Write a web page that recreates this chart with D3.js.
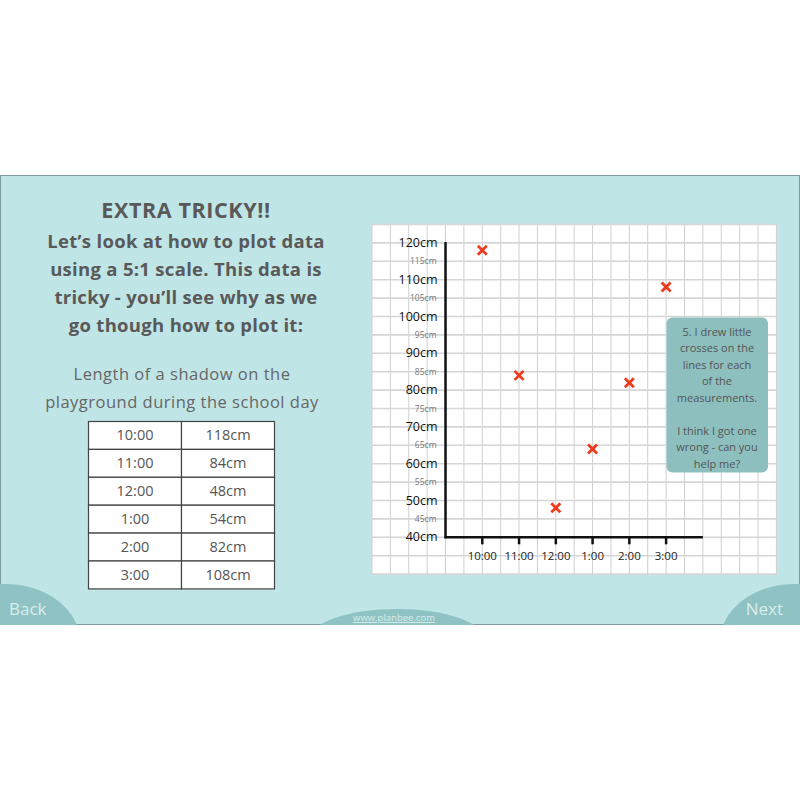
<!DOCTYPE html>
<html><head><meta charset="utf-8">
<script src="https://cdn.jsdelivr.net/npm/d3@7"></script>
<style>
html,body{margin:0;padding:0;background:#fff;}
svg{display:block;}
text{font-family:"Open Sans","Noto Sans",sans-serif;}
</style></head>
<body>
<div id="chart"></div>
<script>
// ---- data ----
const times = ["10:00","11:00","12:00","1:00","2:00","3:00"];
const tableValues = [118, 84, 48, 54, 82, 108];      // values written in the table
const plottedValues = [118, 84, 48, 64, 82, 108];    // crosses as drawn (one is wrong)
const majorTicks = [120, 110, 100, 90, 80, 70, 60, 50, 40];
const minorTicks = [115, 105, 95, 85, 75, 65, 55, 45];
const titleLines = ["EXTRA TRICKY!!"];
const introLines = ["Let\u2019s look at how to plot data", "using a 5:1 scale. This data is", "tricky - you\u2019ll see why as we", "go though how to plot it:"];
const captionLines = ["Length of a shadow on the", "playground during the school day"];
const noteLines = ["5. I drew little", "crosses on the", "lines for each", "of the", "measurements.", "", "I think I got one", "wrong - can you", "help me?"];

const W = 800, H = 800;
const svg = d3.select("#chart").append("svg").attr("width", W).attr("height", H);

// slide background
svg.append("rect").attr("x", 0.5).attr("y", 175.5).attr("width", 799).attr("height", 449)
  .attr("fill", "#c0e5e6").attr("stroke", "#7f9c9d").attr("stroke-width", 1);

// bottom decorations
const deco = svg.append("g");
const clip = svg.append("clipPath").attr("id", "slideclip");
clip.append("rect").attr("x", 0).attr("y", 175).attr("width", 800).attr("height", 450);
deco.attr("clip-path", "url(#slideclip)");
deco.append("ellipse").attr("cx", 6).attr("cy", 642).attr("rx", 74).attr("ry", 58).attr("fill", "#8fc3c3");
deco.append("ellipse").attr("cx", 794).attr("cy", 642).attr("rx", 74).attr("ry", 58).attr("fill", "#8fc3c3");
deco.append("ellipse").attr("cx", 397).attr("cy", 640).attr("rx", 88).attr("ry", 31).attr("fill", "#8fc3c3");
svg.append("text").attr("x", 9).attr("y", 615).attr("font-size", 17).attr("fill", "#d9eded").text("Back");
svg.append("text").attr("x", 783).attr("y", 615).attr("text-anchor", "end").attr("font-size", 17).attr("fill", "#d9eded").text("Next");
svg.append("text").attr("x", 394).attr("y", 621).attr("text-anchor", "middle").attr("font-size", 9.5)
  .attr("fill", "#d9eded").attr("text-decoration", "underline").text("www.planbee.com");

// left text
svg.append("text").attr("x", 186).attr("y", 218).attr("text-anchor", "middle").attr("font-size", 21.5)
  .attr("font-weight", 700).attr("fill", "#595959").attr("letter-spacing", 0.6).text(titleLines[0]);
svg.append("g").selectAll("text").data(introLines).join("text")
  .attr("x", 186).attr("y", (d, i) => 247.5 + i * 28.3).attr("text-anchor", "middle")
  .attr("font-size", 18.5).attr("font-weight", 700).attr("fill", "#595959").attr("letter-spacing", 0.3).text(d => d);
svg.append("g").selectAll("text").data(captionLines).join("text")
  .attr("x", 182).attr("y", (d, i) => 380 + i * 27.5).attr("text-anchor", "middle")
  .attr("font-size", 16.5).attr("fill", "#666").attr("letter-spacing", 0.5).text(d => d);

// table
const tX0 = 88.5, tX1 = 181.5, tX2 = 274.5, tY0 = 421.5, rowH = 27.9;
const tbl = svg.append("g");
const rows = times.map((t, i) => ({t, v: tableValues[i], i}));
tbl.selectAll("g.row").data(rows).join("g").attr("class", "row").each(function(d) {
  const g = d3.select(this);
  const y = tY0 + d.i * rowH;
  g.append("rect").attr("x", tX0).attr("y", y).attr("width", tX1 - tX0).attr("height", rowH)
    .attr("fill", "#fff").attr("stroke", "#444").attr("stroke-width", 1.2);
  g.append("rect").attr("x", tX1).attr("y", y).attr("width", tX2 - tX1).attr("height", rowH)
    .attr("fill", "#fff").attr("stroke", "#444").attr("stroke-width", 1.2);
  g.append("text").attr("x", (tX0 + tX1) / 2).attr("y", y + rowH / 2 + 5).attr("text-anchor", "middle")
    .attr("font-size", 14.5).attr("fill", "#555").text(d.t);
  g.append("text").attr("x", (tX1 + tX2) / 2).attr("y", y + rowH / 2 + 5).attr("text-anchor", "middle")
    .attr("font-size", 14.5).attr("fill", "#555").text(d.v + "cm");
});

// chart panel (grid paper): half-hour columns, 5cm rows
const x = d3.scaleLinear().domain([-3, 8]).range([372, 776.4]);
const y = d3.scaleLinear().domain([30, 125]).range([574.1, 224.5]);
svg.append("rect").attr("x", x(-3)).attr("y", y(125)).attr("width", x(8) - x(-3)).attr("height", y(30) - y(125))
  .attr("fill", "#fff");
const grid = svg.append("g");
grid.selectAll("line.v").data(d3.range(-3, 8.01, 0.5)).join("line").attr("class", "v")
  .attr("x1", d => x(d)).attr("x2", d => x(d)).attr("y1", y(125)).attr("y2", y(30))
  .attr("stroke", "#cfcfcf").attr("stroke-width", 1);
grid.selectAll("line.h").data(d3.range(30, 125.01, 5)).join("line").attr("class", "h")
  .attr("y1", d => y(d)).attr("y2", d => y(d)).attr("x1", x(-3)).attr("x2", x(8))
  .attr("stroke", "#d6d6d6").attr("stroke-width", 1.6);

// axes
svg.append("line").attr("x1", x(-1)).attr("x2", x(-1)).attr("y1", y(120) - 1).attr("y2", y(40) + 1)
  .attr("stroke", "#111").attr("stroke-width", 2.5);
svg.append("line").attr("x1", x(-1) - 1).attr("x2", x(6)).attr("y1", y(40)).attr("y2", y(40))
  .attr("stroke", "#111").attr("stroke-width", 2.5);
svg.append("g").selectAll("line").data(times).join("line")
  .attr("x1", (d, i) => x(i)).attr("x2", (d, i) => x(i)).attr("y1", y(40)).attr("y2", y(40) + 7)
  .attr("stroke", "#111").attr("stroke-width", 2.5);
svg.append("g").selectAll("text").data(times).join("text")
  .attr("x", (d, i) => x(i)).attr("y", y(40) + 23).attr("text-anchor", "middle")
  .attr("font-size", 11.5).attr("fill", "#222").text(d => d);
svg.append("g").selectAll("text").data(majorTicks).join("text")
  .attr("x", x(-1) - 8).attr("y", d => y(d) + 4).attr("text-anchor", "end")
  .attr("font-size", 12.5).attr("fill", "#111").text(d => d + "cm");
svg.append("g").selectAll("text").data(minorTicks).join("text")
  .attr("x", x(-1) - 9).attr("y", d => y(d) + 3).attr("text-anchor", "end")
  .attr("font-size", 8.5).attr("fill", "#777").text(d => d + "cm");

// crosses
const cs = 4.5;
const crosses = svg.append("g").selectAll("g").data(plottedValues).join("g")
  .attr("transform", (d, i) => `translate(${x(i)},${y(d)})`);
crosses.append("line").attr("x1", -cs).attr("y1", -cs).attr("x2", cs).attr("y2", cs)
  .attr("stroke", "#ee3a1f").attr("stroke-width", 2.8);
crosses.append("line").attr("x1", -cs).attr("y1", cs).attr("x2", cs).attr("y2", -cs)
  .attr("stroke", "#ee3a1f").attr("stroke-width", 2.8);

// note box
svg.append("rect").attr("x", 666.5).attr("y", 317.5).attr("width", 101.5).attr("height", 155)
  .attr("rx", 6).attr("fill", "#8dbfbf");
svg.append("g").selectAll("text").data(noteLines).join("text")
  .attr("x", 717).attr("y", (d, i) => 335.5 + i * 16.5).attr("text-anchor", "middle")
  .attr("font-size", 11).attr("fill", "#555").text(d => d);
</script>
</body></html>
